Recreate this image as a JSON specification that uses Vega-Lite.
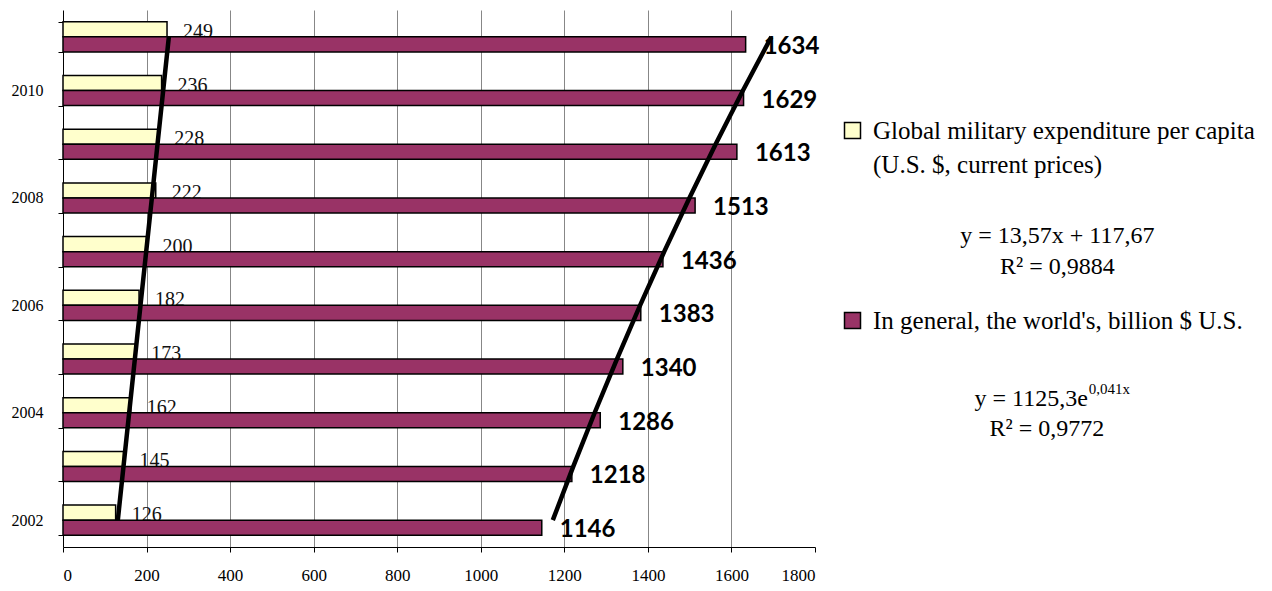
{
  "$schema": "https://vega.github.io/schema/vega-lite/v6.json",
  "width": 752,
  "height": 537,
  "autosize": {"type": "none"},
  "padding": {"left": 63, "top": 10, "right": 457, "bottom": 44},
  "background": "white",
  "config": {"view": {"stroke": null}, "font": "Liberation Serif"},
  "data": {
    "values": [
      {"year": 2002, "series": "Global military expenditure per capita (U.S. $, current prices)", "value": 126, "trend": 131.2},
      {"year": 2003, "series": "Global military expenditure per capita (U.S. $, current prices)", "value": 145, "trend": 144.8},
      {"year": 2004, "series": "Global military expenditure per capita (U.S. $, current prices)", "value": 162, "trend": 158.4},
      {"year": 2005, "series": "Global military expenditure per capita (U.S. $, current prices)", "value": 173, "trend": 172.0},
      {"year": 2006, "series": "Global military expenditure per capita (U.S. $, current prices)", "value": 182, "trend": 185.5},
      {"year": 2007, "series": "Global military expenditure per capita (U.S. $, current prices)", "value": 200, "trend": 199.1},
      {"year": 2008, "series": "Global military expenditure per capita (U.S. $, current prices)", "value": 222, "trend": 212.7},
      {"year": 2009, "series": "Global military expenditure per capita (U.S. $, current prices)", "value": 228, "trend": 226.2},
      {"year": 2010, "series": "Global military expenditure per capita (U.S. $, current prices)", "value": 236, "trend": 239.8},
      {"year": 2011, "series": "Global military expenditure per capita (U.S. $, current prices)", "value": 249, "trend": 253.4},
      {"year": 2002, "series": "In general, the world's, billion $ U.S.", "value": 1146, "trend": 1172.4},
      {"year": 2003, "series": "In general, the world's, billion $ U.S.", "value": 1218, "trend": 1221.5},
      {"year": 2004, "series": "In general, the world's, billion $ U.S.", "value": 1286, "trend": 1272.6},
      {"year": 2005, "series": "In general, the world's, billion $ U.S.", "value": 1340, "trend": 1325.9},
      {"year": 2006, "series": "In general, the world's, billion $ U.S.", "value": 1383, "trend": 1381.3},
      {"year": 2007, "series": "In general, the world's, billion $ U.S.", "value": 1436, "trend": 1439.1},
      {"year": 2008, "series": "In general, the world's, billion $ U.S.", "value": 1513, "trend": 1499.4},
      {"year": 2009, "series": "In general, the world's, billion $ U.S.", "value": 1613, "trend": 1562.1},
      {"year": 2010, "series": "In general, the world's, billion $ U.S.", "value": 1629, "trend": 1627.5},
      {"year": 2011, "series": "In general, the world's, billion $ U.S.", "value": 1634, "trend": 1695.6}
    ]
  },
  "encoding": {
    "y": {
      "field": "year",
      "type": "ordinal",
      "sort": "descending",
      "scale": {"paddingInner": 0.44, "paddingOuter": 0.22},
      "axis": {
        "title": null,
        "domainColor": "black",
        "domainWidth": 1,
        "tickColor": "black",
        "tickSize": 5,
        "tickBand": "extent",
        "labelExpr": "datum.value % 2 == 0 ? datum.label : ''",
        "labelFont": "Liberation Serif",
        "labelFontSize": 16,
        "labelColor": "black",
        "labelPadding": 15,
        "grid": false
      }
    }
  },
  "layer": [
    {
      "transform": [{"filter": "indexof(datum.series, 'Global') == 0"}],
      "mark": {"type": "text", "align": "left", "baseline": "alphabetic", "dx": 16, "dy": 1, "font": "Liberation Serif", "fontSize": 20, "color": "#111"},
      "encoding": {
        "x": {"field": "value", "type": "quantitative"},
        "text": {"field": "value", "type": "quantitative"}
      }
    },
    {
      "mark": {"type": "bar", "stroke": "black", "strokeWidth": 1.5, "opacity": 1},
      "encoding": {
        "x": {
          "field": "value",
          "type": "quantitative",
          "scale": {"domain": [0, 1800]},
          "axis": {
            "title": null,
            "format": "d",
            "values": [0, 200, 400, 600, 800, 1000, 1200, 1400, 1600, 1800],
            "domainColor": "black",
            "tickColor": "black",
            "tickSize": 5,
            "labelFont": "Liberation Serif",
            "labelFontSize": 17,
            "labelColor": "black",
            "labelPadding": 15,
            "grid": true,
            "gridColor": "#878787",
            "gridOpacity": {"condition": {"test": "datum.value == 0 || datum.value == 1800", "value": 0}, "value": 1}
          }
        },
        "yOffset": {"field": "series", "type": "nominal"},
        "color": {
          "field": "series",
          "type": "nominal",
          "scale": {"range": ["#FFFFCC", "#993366"]},
          "legend": {
            "orient": "none",
            "legendX": 777,
            "legendY": 108,
            "title": null,
            "padding": 0,
            "symbolType": "square",
            "symbolSize": 256,
            "symbolStrokeColor": "black",
            "symbolStrokeWidth": 1.5,
            "symbolOpacity": 1,
            "labelFont": "Liberation Serif",
            "labelFontSize": 25,
            "labelColor": "black",
            "labelOffset": 8,
            "labelLimit": 600,
            "labelBaseline": "middle",
            "rowPadding": 130,
            "labelExpr": "indexof(datum.label, ' (') > 0 ? [slice(datum.label, 0, indexof(datum.label, ' (')), slice(datum.label, indexof(datum.label, ' (') + 1)] : datum.label",
            "encode": {
              "labels": {
                "update": {
                  "lineHeight": {"value": 34}
                }
              }
            }
          }
        }
      }
    },
    {
      "transform": [{"filter": "indexof(datum.series, 'Global') != 0"}],
      "mark": {"type": "text", "align": "left", "baseline": "alphabetic", "dx": 18, "dy": 17, "font": "Lato", "fontWeight": "bold", "fontSize": 24, "color": "black"},
      "encoding": {
        "x": {"field": "value", "type": "quantitative"},
        "text": {"field": "value", "type": "quantitative"}
      }
    },
    {
      "mark": {"type": "line", "color": "black", "strokeWidth": 4.5},
      "encoding": {
        "x": {"field": "trend", "type": "quantitative"},
        "detail": {"field": "series", "type": "nominal"}
      }
    },
    {
      "data": {"values": [{"label": ["y = 13,57x + 117,67", "R² = 0,9884"]}]},
      "mark": {"type": "text", "align": "center", "baseline": "middle", "font": "Liberation Serif", "fontSize": 24, "lineHeight": 31, "dy": -16, "color": "black"},
      "encoding": {
        "x": {"datum": 2380, "type": "quantitative"},
        "y": {"datum": 2007, "type": "ordinal"},
        "text": {"field": "label"}
      }
    },
    {
      "data": {"values": [{"label": "y = 1125,3e"}]},
      "mark": {"type": "text", "align": "right", "baseline": "middle", "font": "Liberation Serif", "fontSize": 24, "dy": -14, "color": "black"},
      "encoding": {
        "x": {"datum": 2453, "type": "quantitative"},
        "y": {"datum": 2004, "type": "ordinal"},
        "text": {"field": "label"}
      }
    },
    {
      "data": {"values": [{"label": "0,041x"}]},
      "mark": {"type": "text", "align": "left", "baseline": "middle", "font": "Liberation Serif", "fontSize": 15, "dy": -24, "color": "black"},
      "encoding": {
        "x": {"datum": 2455, "type": "quantitative"},
        "y": {"datum": 2004, "type": "ordinal"},
        "text": {"field": "label"}
      }
    },
    {
      "data": {"values": [{"label": "R² = 0,9772"}]},
      "mark": {"type": "text", "align": "center", "baseline": "middle", "font": "Liberation Serif", "fontSize": 24, "dy": 16, "color": "black"},
      "encoding": {
        "x": {"datum": 2355, "type": "quantitative"},
        "y": {"datum": 2004, "type": "ordinal"},
        "text": {"field": "label"}
      }
    }
  ]
}
